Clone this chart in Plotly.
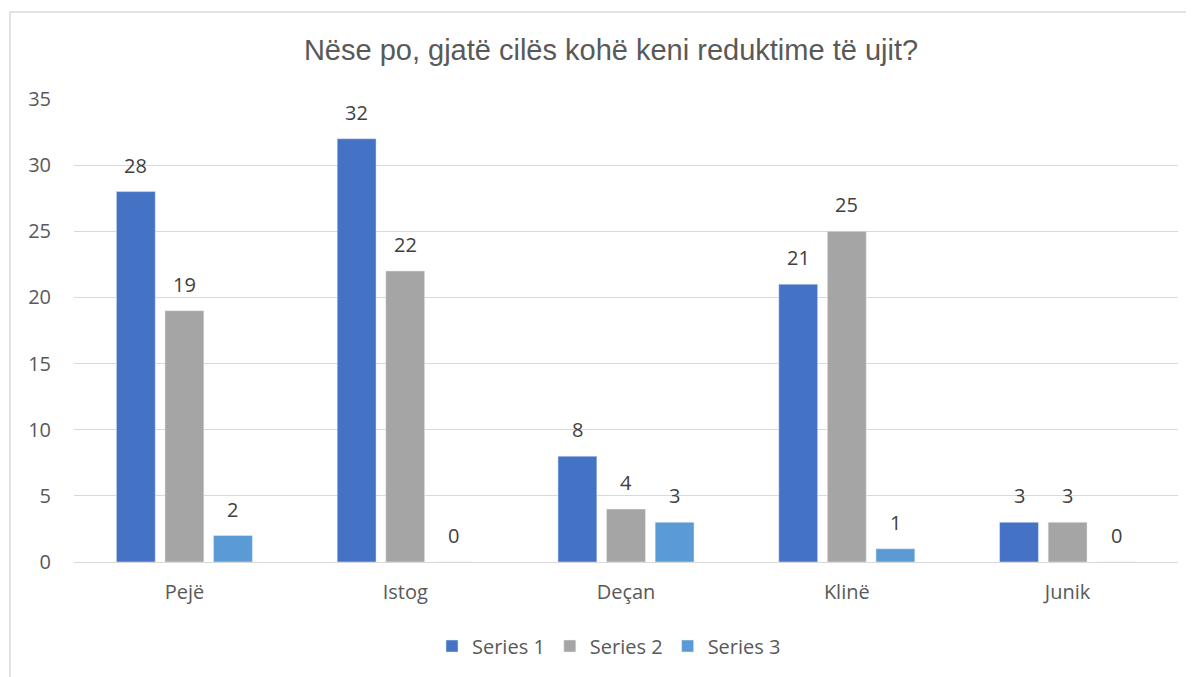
import plotly.graph_objects as go

categories = ["Pejë", "Istog", "Deçan", "Klinë", "Junik"]
series1 = [28, 32, 8, 21, 3]
series2 = [19, 22, 4, 25, 3]
series3 = [2, 0, 3, 1, 0]
series_names = ["Series 1", "Series 2", "Series 3"]
colors = ["#4472C4", "#A5A5A5", "#5B9BD5"]

# page body has an 8px offset; compensate
OFF = 8
W, H = 1194 - OFF, 677 - OFF
L, T = 74 - OFF, 99 - OFF
R = W - (1178 - OFF)
B = H - (562 - OFF)
pw, ph = W - L - R, H - T - B

FS = 20
BARGAP = 0.34
all_series = [series1, series2, series3]
n = len(all_series)
pitch = (1 - BARGAP) * (pw / len(categories)) / n

fig = go.Figure()
for name, vals, c in zip(series_names, all_series, colors):
    fig.add_trace(go.Bar(
        x=categories, y=vals, name=name, marker_color=c,
        cliponaxis=False,
    ))

# data labels raised above bars, aligned with grouped bars
for i, vals in enumerate(all_series):
    for cat, v in zip(categories, vals):
        fig.add_annotation(
            x=cat, y=v, text=str(v), showarrow=False,
            xshift=(i - (n - 1) / 2) * pitch, yshift=11, yanchor="bottom",
            font=dict(size=FS, color="#404040", family="Open Sans"),
        )

fig.update_layout(
    width=W, height=H,
    margin=dict(l=L, r=R, t=T, b=B),
    paper_bgcolor="white", plot_bgcolor="white",
    barmode="group", bargap=BARGAP, bargroupgap=0.2,
    title=dict(text="Nëse po, gjatë cilës kohë keni reduktime të ujit?",
               x=(611 - OFF) / W, xanchor="center", y=1 - (50 - OFF) / H, yanchor="middle",
               font=dict(family="Liberation Sans, Arial", size=29, color="#595959")),
    font=dict(family="Open Sans", color="#595959", size=FS),
    legend=dict(orientation="h", x=0.5 - 17 / pw, xanchor="center", y=(562 - 646) / ph,
                yanchor="middle", font=dict(size=FS, color="#595959"),
                traceorder="normal"),
    showlegend=True,
)
fig.update_xaxes(showgrid=False, showline=True, linecolor="#d9d9d9", linewidth=1,
                 ticks="", tickfont=dict(size=FS, color="#595959"), ticklabelstandoff=12)
fig.update_yaxes(range=[0, 35], dtick=5, showgrid=True, gridcolor="#d9d9d9",
                 gridwidth=1, zeroline=False, showline=False, ticks="",
                 tickfont=dict(size=FS, color="#595959"), ticklabelstandoff=22)

fig.add_shape(type="rect", xref="paper", yref="paper",
              x0=(10 - 74) / pw, x1=(1210 - 74) / pw,
              y0=(562 - 700) / ph, y1=(562 - 12) / ph,
              line=dict(color="#d9d9d9", width=1.5), fillcolor="rgba(0,0,0,0)",
              layer="below")

fig.write_html("out.html")
